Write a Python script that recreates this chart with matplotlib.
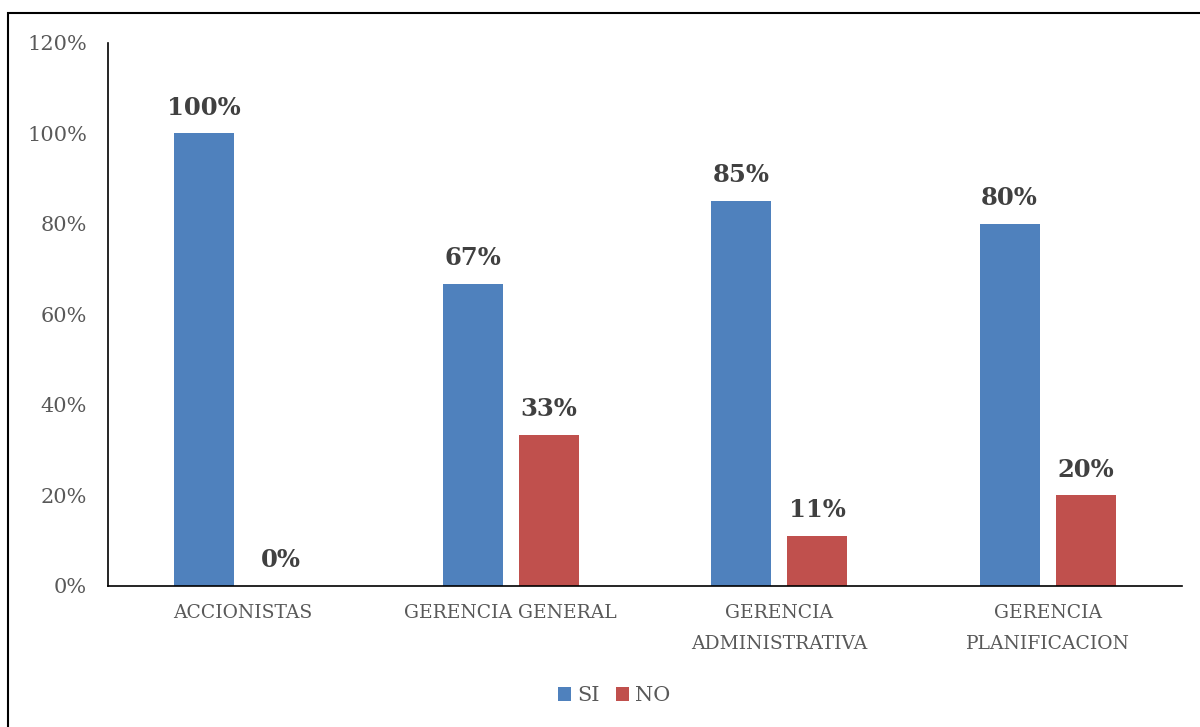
import numpy as np
import matplotlib.pyplot as plt
from matplotlib.patches import Rectangle

# survey answers per area
categories = ["ACCIONISTAS", "GERENCIA GENERAL", "GERENCIA\nADMINISTRATIVA", "GERENCIA\nPLANIFICACION"]
si_values = [1.00, 0.667, 0.85, 0.80]
no_values = [0.00, 0.333, 0.11, 0.20]
y_ticks = [0, 0.2, 0.4, 0.6, 0.8, 1.0, 1.2]

SI_COLOR = "#4F81BD"
NO_COLOR = "#C0504D"
FONT = "DejaVu Serif"

fig = plt.figure(figsize=(12, 7.27), dpi=100)
ax = fig.add_axes([0.09, 0.194, 0.895, 0.747])

x = np.arange(len(categories))
width = 0.223
offset = 0.142

bars_si = ax.bar(x - offset, si_values, width, color=SI_COLOR, label="SI")
bars_no = ax.bar(x + offset, no_values, width, color=NO_COLOR, label="NO")

for bars in (bars_si, bars_no):
    for b in bars:
        h = b.get_height()
        ax.annotate(f"{h * 100:.0f}%", (b.get_x() + b.get_width() / 2, h),
                    xytext=(0, 10), textcoords="offset points",
                    ha="center", va="bottom", fontsize=17.5, fontweight="bold",
                    color="#404040", family=FONT)

ax.set_xlim(-0.5, len(categories) - 0.5)
ax.set_ylim(0, 1.2)
ax.set_yticks(y_ticks)
ax.set_yticklabels([f"{v * 100:.0f}%" for v in y_ticks], family=FONT, fontsize=15, color="#595959")
ax.set_xticks(x)
ax.set_xticklabels(categories, family=FONT, fontsize=13.5, color="#595959", linespacing=1.9)
ax.tick_params(axis="both", length=0)
ax.tick_params(axis="x", pad=13)
ax.tick_params(axis="y", pad=15)

for side in ("top", "right"):
    ax.spines[side].set_visible(False)
for side in ("left", "bottom"):
    ax.spines[side].set_color("black")
    ax.spines[side].set_linewidth(1.2)

leg = fig.legend(handles=[bars_si, bars_no], labels=["SI", "NO"], loc="center",
                 bbox_to_anchor=(0.512, 0.043), ncol=2, frameon=False,
                 prop={"family": FONT, "size": 15}, handlelength=0.6, handleheight=0.6,
                 handletextpad=0.3, columnspacing=0.8)
for t in leg.get_texts():
    t.set_color("#595959")

# outer frame of the chart area
fig.patches.append(Rectangle((8 / 1200, -0.05), 1.1, 1 - 13 / 727 + 0.05,
                             transform=fig.transFigure, fill=False,
                             edgecolor="black", linewidth=1.5))

fig.savefig("out.png", dpi=100)
